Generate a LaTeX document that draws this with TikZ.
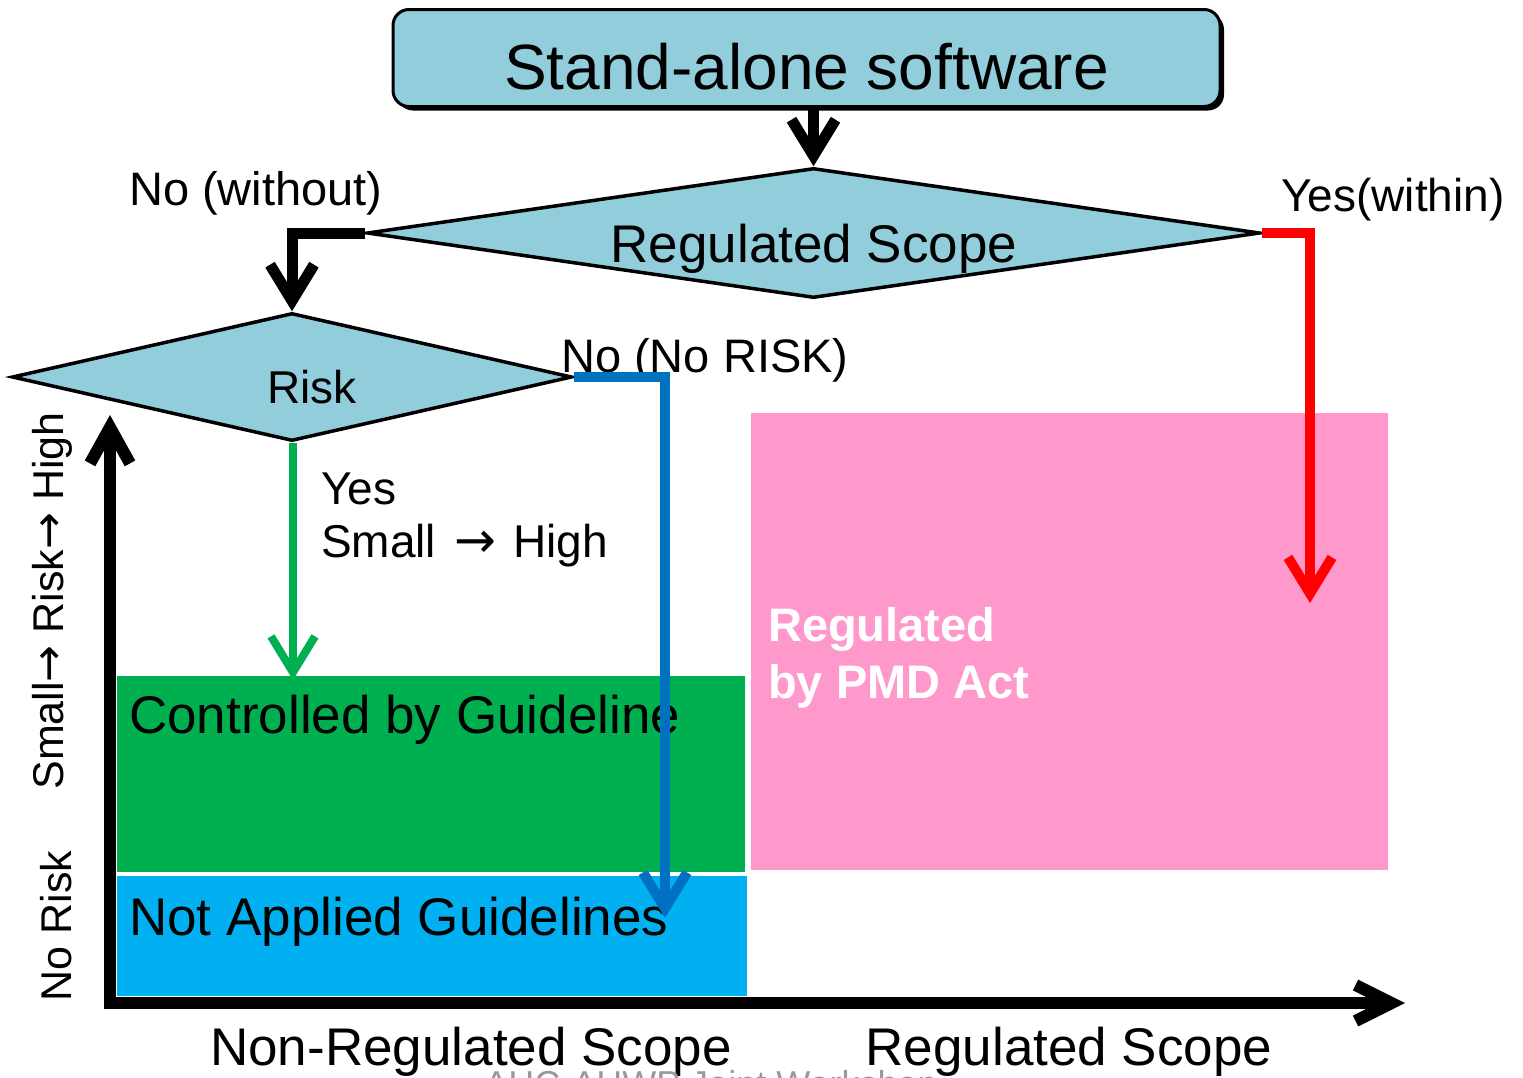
\documentclass[tikz,border=0pt]{standalone}
\usepackage{fontspec}
\setmainfont{Liberation Sans}
\newfontfamily\arrowfont{DejaVu Sans}
\usetikzlibrary{arrows.meta,shapes.geometric}
\definecolor{lblue}{HTML}{92CDDC}
\definecolor{dgreen}{HTML}{00B050}
\definecolor{cyanb}{HTML}{00B0F0}
\definecolor{pinkb}{HTML}{FF99CC}
\definecolor{darkb}{HTML}{0070C0}
\definecolor{redr}{HTML}{FF0000}
\newcommand\myfs[1]{\fontsize{#1}{#1}\selectfont}
\begin{document}
\begin{tikzpicture}[x=1pt,y=-1pt,
  boxshadow/.style={preaction={fill=black, transform canvas={shift={(4pt,-4pt)}}}},
  lineshadow/.style={preaction={draw=black!85, transform canvas={shift={(3pt,-2pt)}}}},
  topbox/.style={draw=black, line width=3pt, rounded corners=16pt, fill=lblue,
    minimum width=827pt, minimum height=97pt, inner sep=0pt, boxshadow},
  dec/.style={diamond, draw=black, line width=3.5pt, fill=lblue, inner sep=0pt},
  conn/.style={line width=10pt, line join=miter,
    -{Straight Barb[length=36pt,width=44pt]}},
  axis/.style={line width=12pt, line join=miter,
    {Straight Barb[length=36pt,width=40pt]}-{Straight Barb[length=36pt,width=36pt]}},
  region/.style={anchor=north west, inner sep=0pt, draw=none},
  lbl/.style={anchor=west, inner sep=0pt, text=black},
]
\useasboundingbox (0,0) rectangle (1523,1077);

% regions
\node[region, fill=pinkb, minimum width=637pt, minimum height=457pt] (pmd) at (751,413) {};
\node[region, fill=dgreen, minimum width=628pt, minimum height=196pt] (ctrl) at (117,676) {};
\node[region, fill=cyanb, minimum width=630pt, minimum height=120pt] (nag) at (117,876) {};

% top box and decisions
\node[topbox] (sw) at (806.5,58) {};
\node[inner sep=0pt] (swt) at (806.5,67) {\myfs{64}Stand-alone software};
\node[dec, minimum width=893pt, minimum height=130pt] (rs) at (813.5,233) {};
\node[inner sep=0pt] (rst) at (814,249) {\myfs{53}Regulated Scope};
\node[dec, minimum width=560pt, minimum height=128pt] (risk) at (292,377) {};
\node[inner sep=0pt] (riskt) at (312,387) {\myfs{46}Risk};

% labels
\node[lbl] (lno) at (129,193) {\myfs{47}No (without)};
\node[lbl] (lyes) at (1281,200) {\myfs{46}Yes(within)};
\node[lbl] (lnr) at (561,360) {\myfs{47}No (No RISK)};
\node[lbl] (lyes2) at (321,489) {\myfs{46}Yes};
\node[lbl] (lsh) at (321,546) {\myfs{46}Small\hspace{18pt}{\arrowfont\myfs{50}→}\hspace{17pt}High};
\node[lbl] (lctrl) at (129,720) {\myfs{53}Controlled by Guideline};
\node[lbl] (lnag) at (129,922) {\myfs{53}Not Applied Guidelines};
\node[lbl, text=white] (lreg) at (768,629) {\myfs{47}\bfseries Regulated};
\node[lbl, text=white] (lpmd) at (768,686) {\myfs{47}\bfseries by PMD Act};
\node[inner sep=0pt] (lnrs) at (471,1052) {\myfs{53}Non-Regulated Scope};
\node[inner sep=0pt] (lrs) at (1069,1052) {\myfs{53}Regulated Scope};
\node[inner sep=0pt, rotate=90] (lnorisk) at (56,926) {\myfs{43}No Risk};
\node[inner sep=0pt, rotate=90] (lsrh) at (52,601) {\myfs{43}Small{\arrowfont\myfs{44}→} Risk{\arrowfont\myfs{44}→} High};
\node[anchor=base, inner sep=0pt, text=black!40] (lws) at (711,1096) {\myfs{36}AHC-AHWP Joint Workshop};

% connector end points
\coordinate (redend) at (1310,603);
\coordinate (blueend) at (665,918);
\coordinate (greenend) at (293,680);
\coordinate (ytop) at (110,415);
\coordinate (org) at (110,1003);
\coordinate (xend) at (1405,1003);

% connectors
\draw[conn, black, line width=11pt] (sw.south -| rs.north) -- (rs.north);
\draw[conn, black, line width=11pt] (rs.west) -| (risk.north);
\draw[conn, redr, lineshadow] (rs.east) -| (redend);
\draw[conn, darkb, lineshadow] (risk.east) -| (blueend);
\draw[conn, dgreen, line width=8pt] (risk.south -| greenend) -- (greenend);

% axes
\draw[axis, black] (ytop) -- (org) -- (xend);
\end{tikzpicture}
\end{document}
